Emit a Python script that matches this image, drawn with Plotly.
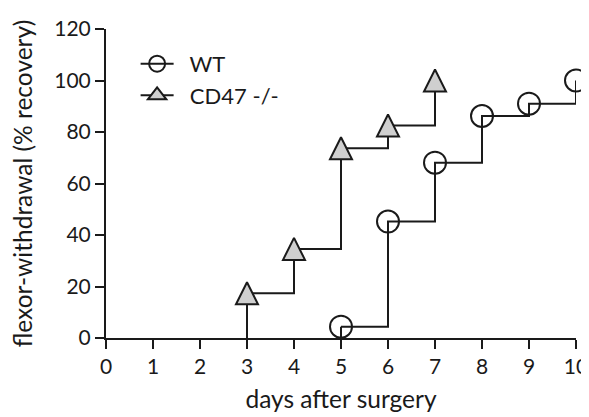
import plotly.graph_objects as go

# Data
wt_days = [5, 6, 7, 8, 9, 10]
wt_values = [4.4, 45.2, 68.1, 86.2, 91.0, 100.0]
cd47_days = [3, 4, 5, 6, 7]
cd47_values = [17.4, 34.6, 73.7, 82.5, 100.0]

x_ticks = list(range(0, 11))
y_ticks = [0, 20, 40, 60, 80, 100, 120]

FONT = "Lato"
INK = "#1a1a1a"
PAGE_OFFSET = 8  # default body margin of the html page
W, H = 589 - PAGE_OFFSET, 417 - PAGE_OFFSET
ML, MR, MT, MB = 106 - PAGE_OFFSET, 13, 29 - PAGE_OFFSET, 79
Y_RANGE = [0, 120]
TRI = 22  # triangle marker size (px)
# shift (in data units) so the apex-anchored arrow marker is centred on its point
plot_h = H - MT - MB
delta = (TRI / 2) * (Y_RANGE[1] - Y_RANGE[0]) / plot_h

NB = "\u00a0" * 2

fig = go.Figure()

# initial rise from zero for each series
for days, vals in [(wt_days, wt_values), (cd47_days, cd47_values)]:
    fig.add_trace(go.Scatter(
        x=[days[0], days[0]], y=[0, vals[0]], mode="lines",
        line=dict(color=INK, width=2), showlegend=False, hoverinfo="skip",
        cliponaxis=False,
    ))

fig.add_trace(go.Scatter(
    x=wt_days, y=wt_values, mode="lines+markers", name=NB + "WT",
    line=dict(color=INK, width=2, shape="hv"),
    marker=dict(symbol="circle-open", size=22, color=INK, line=dict(width=2, color=INK)),
    cliponaxis=False, legendgroup="a",
))
# CD47 step line
fig.add_trace(go.Scatter(
    x=cd47_days, y=cd47_values, mode="lines",
    line=dict(color=INK, width=2, shape="hv"),
    cliponaxis=False, showlegend=False,
))
# CD47 triangles on an overlaid axis shifted so the markers are centred
fig.add_trace(go.Scatter(
    x=cd47_days, y=cd47_values, mode="markers", yaxis="y2",
    marker=dict(symbol="arrow-up", size=TRI, color="#cfcfcf",
                line=dict(width=2, color=INK)),
    cliponaxis=False, showlegend=False,
))
# legend entry for CD47
fig.add_trace(go.Scatter(
    x=[None], y=[None], mode="lines+markers", name=NB + "CD47 -/-",
    line=dict(color=INK, width=2),
    marker=dict(symbol="triangle-up", size=22, color="#cfcfcf", line=dict(width=2, color=INK)),
    legendgroup="b",
))

axis_common = dict(
    showline=True, linecolor=INK, linewidth=2, ticks="outside", ticklen=9,
    tickwidth=2, tickcolor=INK, showgrid=False, zeroline=False, automargin=False,
    tickfont=dict(family=FONT, size=21, color=INK),
)

fig.update_layout(
    xaxis=dict(range=[0, 10], tickvals=x_ticks, **axis_common,
               title=dict(text="days after surgery", font=dict(family=FONT, size=24.5, color=INK), standoff=14)),
    yaxis=dict(range=Y_RANGE, tickvals=y_ticks, **axis_common,
               title=dict(text="flexor-withdrawal (% recovery)", font=dict(family=FONT, size=24.5, color=INK), standoff=17)),
    yaxis2=dict(range=[Y_RANGE[0] - delta, Y_RANGE[1] - delta], overlaying="y", visible=False,
                showgrid=False, zeroline=False),
    width=W, height=H,
    margin=dict(l=ML, r=MR, t=MT, b=MB),
    plot_bgcolor="white", paper_bgcolor="white",
    font=dict(family=FONT, size=22, color=INK),
    legend=dict(x=0.063, y=0.955, xanchor="left", yanchor="top", bgcolor="rgba(0,0,0,0)",
                font=dict(family=FONT, size=22, color=INK), tracegroupgap=0, itemwidth=33),
)

fig.write_html("out.html")
